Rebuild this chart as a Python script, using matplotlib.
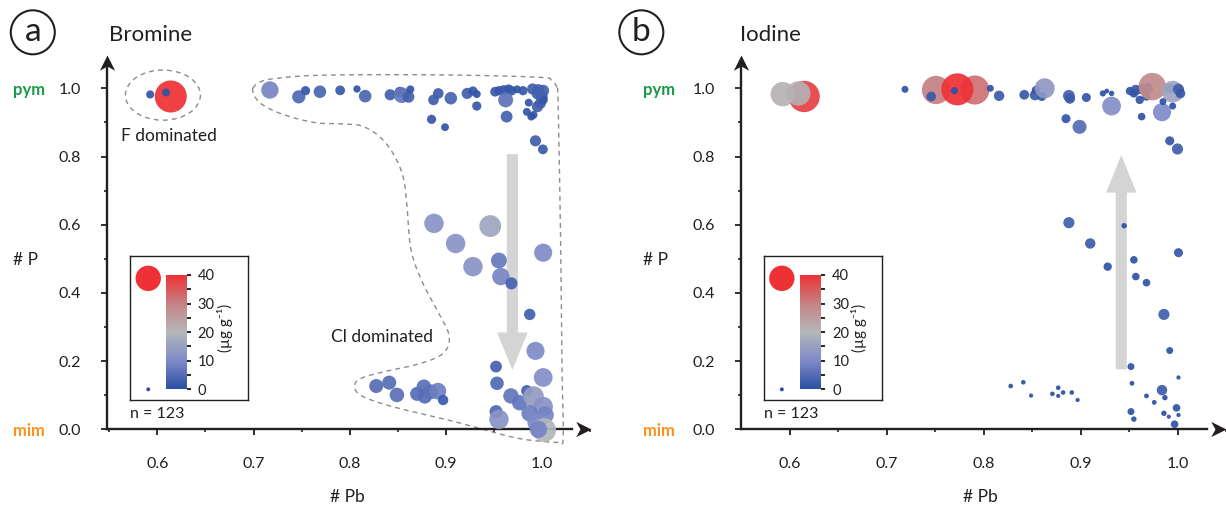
import numpy as np
import matplotlib
matplotlib.use("Agg")
import matplotlib.pyplot as plt
from matplotlib.colors import LinearSegmentedColormap, Normalize
from matplotlib.cm import ScalarMappable
from matplotlib.patches import Ellipse, FancyArrowPatch
from matplotlib.path import Path
from matplotlib.ticker import MultipleLocator, FixedLocator

plt.rcParams['font.family'] = ['Lato', 'DejaVu Sans']

# ---- Bromine: #Pb, #P, concentration (ug/g) ----
br_pb = [0.614, 0.5926, 0.609,
         0.717, 0.747, 0.754, 0.769, 0.790, 0.8075, 0.816, 0.842, 0.852, 0.854,
         0.861, 0.863, 0.887, 0.892, 0.905, 0.885, 0.899, 0.922, 0.928, 0.932,
         0.932, 0.951, 0.955, 0.960, 0.965, 0.968, 0.974, 0.980, 0.962, 0.963,
         0.986, 0.984, 0.9886, 0.996, 1.001, 0.9996, 0.998, 0.995, 1.001, 0.993,
         1.0007, 0.991, 0.990, 0.995,
         0.8875, 0.946, 0.910, 0.928, 0.955, 0.957, 0.968, 1.001, 0.987, 0.993,
         1.001, 0.952, 0.953, 0.9675, 0.9766, 0.984, 0.991, 1.001, 0.987, 1.003,
         0.952, 0.955, 0.994, 1.002, 0.996,
         0.8275, 0.841, 0.849, 0.870, 0.877, 0.878, 0.884, 0.8916, 0.897]
br_p = [0.976, 0.982, 0.988,
        0.995, 0.975, 0.993, 0.990, 0.994, 0.998, 0.977, 0.981, 0.989, 0.980,
        0.975, 0.997, 0.966, 0.985, 0.971, 0.909, 0.886, 0.985, 0.992, 0.983,
        0.948, 0.990, 0.993, 0.995, 0.998, 0.993, 0.997, 0.993, 0.966, 0.917,
        0.958, 0.931, 0.917, 0.995, 0.993, 0.975, 0.956, 0.946, 0.966, 0.846,
        0.821, 0.922, 0.998, 0.985,
        0.604, 0.596, 0.545, 0.477, 0.495, 0.448, 0.428, 0.518, 0.337, 0.230,
        0.152, 0.184, 0.135, 0.098, 0.078, 0.113, 0.096, 0.067, 0.047, 0.042,
        0.052, 0.029, 0.020, -0.002, 0.000,
        0.127, 0.137, 0.101, 0.104, 0.125, 0.096, 0.110, 0.112, 0.086]
br_conc = [40, 0.8, 0.8,
           9, 4.2, 1.3, 3.6, 1.6, 0.5, 3.6, 2.5, 2.1, 7,
           3, 0.7, 2.1, 2.1, 3.6, 1.3, 0.7, 2.5, 1.3, 0.7,
           1.3, 1.6, 1.3, 1.6, 1.3, 1.6, 0.7, 1.3, 6, 3,
           0.7, 0.7, 0.7, 3, 3, 3, 2.5, 2.5, 1.3, 2.5,
           1.6, 0.7, 2.5, 3,
           12, 16, 12, 12, 7, 9, 3.2, 10, 2.7, 10,
           11, 3, 4.5, 6.5, 6.5, 2.7, 14, 12, 8, 9,
           4, 12, 10, 20, 9,
           5, 5, 5.5, 5, 5.5, 5, 6, 8, 2]

# ---- Iodine: #Pb, #P, concentration (ug/g) ----
io_pb = [0.615, 0.593, 0.609,
         0.719, 0.751, 0.746, 0.791, 0.773, 0.770, 0.807, 0.816, 0.842, 0.853,
         0.860, 0.854, 0.863, 0.888, 0.889, 0.906, 0.923, 0.927, 0.932, 0.932,
         0.885, 0.899,
         0.951, 0.957, 0.963, 0.969, 0.961, 0.968, 0.955, 0.974, 0.992, 0.995,
         1.001, 1.003, 0.984, 0.985, 0.995, 0.963, 0.992, 1.000,
         0.888, 0.945, 0.910, 0.928, 0.955, 0.957, 0.968, 1.001, 0.986, 0.992,
         0.952, 1.001, 0.953, 0.984, 0.968, 0.987, 0.976, 0.999, 0.952, 0.955,
         0.986, 0.991, 1.001, 0.997,
         0.828, 0.841, 0.849, 0.871, 0.877, 0.877, 0.882, 0.891, 0.897]
io_p = [0.976, 0.983, 0.985,
        0.997, 0.995, 0.976, 0.995, 0.997, 0.993, 1.000, 0.978, 0.981, 0.980,
        0.976, 0.995, 1.000, 0.978, 0.970, 0.973, 0.985, 0.992, 0.985, 0.948,
        0.911, 0.887,
        0.992, 0.995, 0.997, 1.000, 0.966, 0.976, 0.985, 1.005, 1.000, 0.990,
        0.997, 0.985, 0.930, 0.961, 0.948, 0.917, 0.846, 0.822,
        0.606, 0.597, 0.545, 0.477, 0.497, 0.448, 0.430, 0.518, 0.337, 0.231,
        0.184, 0.152, 0.135, 0.115, 0.098, 0.093, 0.079, 0.063, 0.052, 0.030,
        0.047, 0.037, 0.042, 0.015,
        0.127, 0.138, 0.099, 0.104, 0.122, 0.098, 0.108, 0.108, 0.086]
io_conc = [38, 21, 21,
           0.4, 30, 1.5, 32, 40, 0.5, 0.4, 2, 1.6, 2,
           1.2, 0.9, 13, 3, 2, 1.2, 0.2, 0.02, 0.08, 11,
           1.2, 5,
           0.9, 2, 1.6, 2.5, 0.9, 0.9, 0.9, 28, 1.6, 16,
           2.5, 1.6, 10, 0.4, 0.4, 0.6, 1.2, 2.5,
           2.5, 0.08, 2, 0.9, 0.6, 0.6, 0.6, 1.2, 2.5, 0.4,
           0.4, 0, 0.02, 2, 0.02, 0.08, 0.02, 0.6, 0.4, 0.08,
           0.08, 0, 0, 0.6,
           0.01, 0.01, 0, 0.01, 0.01, 0, 0.01, 0.01, 0]

# dashed outlines drawn around the groups in panel a
cl_outline_pb = [0.6994, 0.7076, 0.724, 0.765, 0.847, 0.929, 0.999, 1.0095,
                 1.0148, 1.0164, 1.019, 1.0205, 1.0218, 1.0177, 1.003, 0.970,
                 0.909, 0.847, 0.814, 0.805, 0.810, 0.831, 0.868, 0.892, 0.902,
                 0.9027, 0.8945, 0.876, 0.8637, 0.8595, 0.8554, 0.845, 0.831,
                 0.814, 0.798, 0.765, 0.732, 0.7097, 0.7014]
cl_outline_p = [1.000, 1.0196, 1.0293, 1.038, 1.040, 1.038, 1.032, 1.024,
                1.005, 0.966, 0.575, 0.184, -0.0215, -0.037, -0.036, -0.0235,
                0.0225, 0.0645, 0.0958, 0.123, 0.147, 0.166, 0.189, 0.213, 0.242,
                0.2815, 0.330, 0.428, 0.526, 0.653, 0.741, 0.809, 0.858,
                0.888, 0.895, 0.899, 0.922, 0.951, 0.9756]
f_center = (0.6058, 0.980)
f_size = (0.078, 0.147)

cmap = LinearSegmentedColormap.from_list(
    'br', [(0, '#2b4fa3'), (0.25, '#7f8ac8'), (0.5, '#b3b7b9'),
           (0.75, '#c58184'), (1.0, '#ee3134')])
norm = Normalize(0, 40)
INK = '#231f20'


def marker_size(conc):
    r = 2.1 + 2.2 * np.sqrt(np.asarray(conc, dtype=float))  # radius in px
    return (2 * r * 0.72) ** 2


def smooth_closed(px, py, n=16):
    P = np.column_stack([px, py])
    N = len(P)
    t = np.linspace(0, 1, n, endpoint=False)[:, None]
    out = []
    for i in range(N):
        p0, p1, p2, p3 = P[i - 1], P[i], P[(i + 1) % N], P[(i + 2) % N]
        out.append(0.5 * (2 * p1 + (-p0 + p2) * t
                          + (2 * p0 - 5 * p1 + 4 * p2 - p3) * t ** 2
                          + (-p0 + 3 * p1 - 3 * p2 + p3) * t ** 3))
    out = np.vstack(out)
    return np.vstack([out, out[:1]])


def style_axes(ax, xlim, side):
    ax.set_xlim(*xlim)
    ax.set_ylim(-0.06, 1.098)
    for s in ['top', 'right']:
        ax.spines[s].set_visible(False)
    ax.spines['bottom'].set_position(('data', 0))
    ax.spines['left'].set_bounds(0, 1.07)
    ax.spines['bottom'].set_bounds(xlim[0], xlim[1] - 0.02)
    for s in ['left', 'bottom']:
        ax.spines[s].set_linewidth(1.7)
        ax.spines[s].set_color(INK)
    ax.set_xticks([0.6, 0.7, 0.8, 0.9, 1.0])
    ax.set_xticklabels(['0.6', '0.7', '0.8', '0.9', '1.0'])
    ax.set_yticks([0, 0.2, 0.4, 0.6, 0.8, 1.0])
    ax.set_yticklabels(['0.0', '0.2', '0.4', '0.6', '0.8', '1.0'])
    ax.xaxis.set_minor_locator(MultipleLocator(0.05))
    ax.yaxis.set_minor_locator(FixedLocator([0.1, 0.3, 0.5, 0.7, 0.9]))
    ax.tick_params(which='major', length=4, width=1.3, colors=INK, labelsize=11.5)
    ax.tick_params(which='minor', length=2.5, width=1.2, colors=INK)
    ax.tick_params(axis='x', which='major', pad=16)
    ax.tick_params(axis='y', which='major', pad=15)
    # arrow heads at the axis ends
    head_r = Path([(0, 0), (-1, 0.5), (-0.72, 0), (-1, -0.5), (0, 0)])
    head_u = Path([(0, 0), (0.5, -1), (0, -0.72), (-0.5, -1), (0, 0)])
    ax.plot([1], [0], marker=head_r, ms=22, color=INK, mew=0,
            transform=ax.get_yaxis_transform(), clip_on=False)
    ax.plot([0], [1], marker=head_u, ms=22, color=INK, mew=0,
            transform=ax.transAxes, clip_on=False)
    ax.text(side, 1.0, 'pym', transform=ax.get_yaxis_transform(), color='#1a9a48',
            fontweight='bold', fontsize=12, ha='center', va='center_baseline')
    ax.text(side, 0.0, 'mim', transform=ax.get_yaxis_transform(), color='#f7941d',
            fontweight='bold', fontsize=12, ha='center', va='center_baseline')
    ax.text(side - 0.007, 0.497, '# P', transform=ax.get_yaxis_transform(),
            fontsize=12.5, ha='center', va='center', color=INK)
    ax.text(0.797, -0.198, '# Pb', fontsize=12.5, ha='center', va='center',
            color=INK, clip_on=False)


def add_legend(box_left, cax_left):
    lax = fig.add_axes([box_left, 0.21875, 0.09625, 0.28125])
    lax.set_xlim(0, 1)
    lax.set_ylim(0, 1)
    lax.set_xticks([])
    lax.set_yticks([])
    for s in lax.spines.values():
        s.set_linewidth(1.0)
        s.set_color(INK)
    lax.scatter([0.155], [0.845], s=334, color=cmap(1.0), edgecolors='none')
    lax.scatter([0.155], [0.074], s=8, color=cmap(0.0), edgecolors='none')
    cax = fig.add_axes([cax_left, 0.2402, 0.01688, 0.2227])
    cb = fig.colorbar(ScalarMappable(norm=norm, cmap=cmap), cax=cax)
    cb.outline.set_visible(False)
    cb.set_ticks([0, 10, 20, 30, 40])
    cax.yaxis.set_minor_locator(MultipleLocator(5))
    cax.tick_params(which='both', direction='out', length=3, width=1.2,
                    labelsize=10.5, pad=5, labelcolor=INK)
    for tk, v in zip(cax.yaxis.get_major_ticks(), [0, 10, 20, 30, 40]):
        tk.tick2line.set_color(cmap(norm(v)))
    for tk, v in zip(cax.yaxis.get_minor_ticks(), np.arange(0, 45, 5)):
        tk.tick2line.set_color(cmap(norm(v)))
    cax.text(2.83, 0.535, '(µg g⁻¹)', transform=cax.transAxes, rotation=90,
             ha='center', va='center', fontsize=11, color=INK)


def big_arrow(ax, x, y0, y1):
    ax.add_patch(FancyArrowPatch(
        (x, y0), (x, y1),
        arrowstyle='simple,head_length=2.7,head_width=2.2,tail_width=0.8',
        mutation_scale=10, color='#d4d4d4', lw=0, zorder=1,
        shrinkA=0, shrinkB=0))


fig = plt.figure(figsize=(12.26, 5.12), dpi=100)
axa = fig.add_axes([0.0875, 0.1215, 0.3948, 0.7713])
axb = fig.add_axes([0.6048, 0.1215, 0.3952, 0.7713])

# panel a
style_axes(axa, (0.548, 1.051), -0.161)
big_arrow(axa, 0.969, 0.807, 0.174)
outline = smooth_closed(cl_outline_pb, cl_outline_p)
axa.plot(outline[:, 0], outline[:, 1], color='#8c8c8c', lw=1.0,
         ls=(0, (3.5, 3)), zorder=2, clip_on=False)
axa.add_patch(Ellipse(f_center, f_size[0], f_size[1], fill=False,
                      ec='#8c8c8c', lw=1.0, ls=(0, (3.5, 3)), zorder=2))
axa.scatter(br_pb, br_p, s=marker_size(br_conc), c=br_conc, cmap=cmap, norm=norm,
            alpha=0.92, edgecolors='none', zorder=3, clip_on=False)
axa.text(0.612, 0.860, 'F dominated', fontsize=12.5, ha='center', va='center', color=INK)
axa.text(0.834, 0.27, 'Cl dominated', fontsize=12.5, ha='center', va='center', color=INK)
axa.text(0.5716, 0.046, 'n = 123', fontsize=11.5, ha='left', va='center', color=INK)

# panel b
style_axes(axb, (0.5504, 1.05), -0.170)
big_arrow(axb, 0.942, 0.176, 0.804)
axb.scatter(io_pb, io_p, s=marker_size(io_conc), c=io_conc, cmap=cmap, norm=norm,
            alpha=0.92, edgecolors='none', zorder=3, clip_on=False)
axb.text(0.5736, 0.046, 'n = 123', fontsize=11.5, ha='left', va='center', color=INK)

add_legend(0.106, 0.1354)
add_legend(0.6228, 0.6529)

# titles and panel letters
fig.text(0.0889, 0.9316, 'Bromine', fontsize=16, va='center', color=INK)
fig.text(0.6036, 0.9316, 'Iodine', fontsize=16, va='center', color=INK)
for cx, letter in [(0.02675, 'a'), (0.5231, 'b')]:
    fig.add_artist(Ellipse((cx, 0.9369), 44 / 1226, 44 / 512, transform=fig.transFigure,
                           fill=False, lw=1.5, ec=INK))
    fig.text(cx, 0.9369, letter, fontsize=24, ha='center', va='center', color=INK)

fig.savefig('out.png', dpi=100)
